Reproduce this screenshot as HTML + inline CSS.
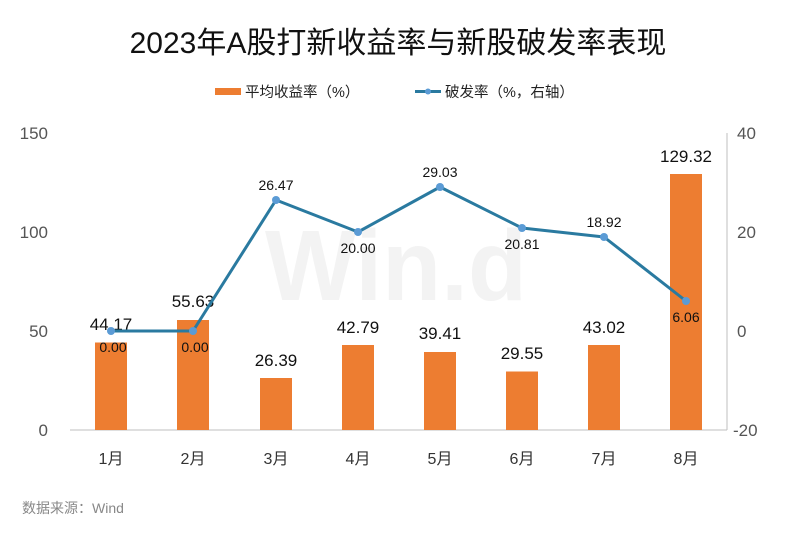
<!DOCTYPE html>
<html><head><meta charset="utf-8"><style>
html,body{margin:0;padding:0;background:#fff;}
svg{display:block;font-family:"Liberation Sans","Noto Sans CJK SC",sans-serif;}
</style></head><body>
<svg width="796" height="535" viewBox="0 0 796 535">
<rect width="796" height="535" fill="#fff"/>
<text x="398" y="53" text-anchor="middle" font-size="30" fill="#111">2023年A股打新收益率与新股破发率表现</text>
<rect x="215" y="88" width="26" height="7" fill="#ed7d31"/>
<text x="245" y="97" font-size="14.5" fill="#222">平均收益率（%）</text>
<line x1="415" y1="91.5" x2="441" y2="91.5" stroke="#2a7aa0" stroke-width="3"/>
<circle cx="428" cy="91.5" r="3" fill="#5b9bd5"/>
<text x="445" y="97" font-size="14.5" fill="#222">破发率（%，右轴）</text>
<text x="396" y="300" text-anchor="middle" font-size="100" font-weight="bold" fill="#f3f3f3" textLength="262" lengthAdjust="spacingAndGlyphs">Win.d</text>
<line x1="70" y1="430" x2="727" y2="430" stroke="#bfbfbf" stroke-width="1"/>
<line x1="727" y1="133" x2="727" y2="430" stroke="#bfbfbf" stroke-width="1"/>
<g font-size="17" fill="#555" text-anchor="end">
<text x="48" y="139">150</text><text x="48" y="238">100</text><text x="48" y="337">50</text><text x="48" y="436">0</text>
</g>
<g font-size="17" fill="#555" text-anchor="start">
<text x="737" y="139">40</text><text x="737" y="238">20</text><text x="737" y="337">0</text><text x="733" y="436">-20</text>
</g>
<g fill="#ed7d31">
<rect x="95" y="342.5" width="32" height="87.5"/>
<rect x="177" y="320" width="32" height="110"/>
<rect x="260" y="378" width="32" height="52"/>
<rect x="342" y="345" width="32" height="85"/>
<rect x="424" y="352" width="32" height="78"/>
<rect x="506" y="371.5" width="32" height="58.5"/>
<rect x="588" y="345" width="32" height="85"/>
<rect x="670" y="174" width="32" height="256"/>
</g>
<g font-size="16" fill="#333" text-anchor="middle">
<text x="111" y="464">1月</text><text x="193" y="464">2月</text><text x="276" y="464">3月</text><text x="358" y="464">4月</text>
<text x="440" y="464">5月</text><text x="522" y="464">6月</text><text x="604" y="464">7月</text><text x="686" y="464">8月</text>
</g>
<g font-size="17" fill="#111" text-anchor="middle">
<text x="111" y="330">44.17</text><text x="193" y="307">55.63</text><text x="276" y="366">26.39</text><text x="358" y="333">42.79</text>
<text x="440" y="339">39.41</text><text x="522" y="359">29.55</text><text x="604" y="333">43.02</text><text x="686" y="162">129.32</text>
</g>
<polyline points="111,331 193,331 276,200 358,232 440,187 522,228 604,237 686,301" fill="none" stroke="#2a7aa0" stroke-width="3" stroke-linejoin="round"/>
<g fill="#5b9bd5">
<circle cx="111" cy="331" r="4"/><circle cx="193" cy="331" r="4"/><circle cx="276" cy="200" r="4"/><circle cx="358" cy="232" r="4"/>
<circle cx="440" cy="187" r="4"/><circle cx="522" cy="228" r="4"/><circle cx="604" cy="237" r="4"/><circle cx="686" cy="301" r="4"/>
</g>
<g font-size="14" fill="#111" text-anchor="middle">
<text x="113" y="352">0.00</text><text x="195" y="352">0.00</text><text x="276" y="190">26.47</text><text x="358" y="253">20.00</text>
<text x="440" y="177">29.03</text><text x="522" y="249">20.81</text><text x="604" y="227">18.92</text><text x="686" y="322">6.06</text>
</g>
<text x="22" y="513" font-size="14" fill="#888">数据来源：Wind</text>
</svg>
</body></html>
